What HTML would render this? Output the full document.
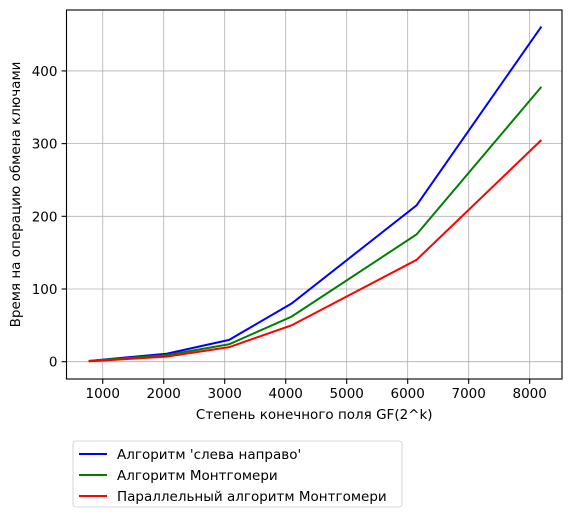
<!DOCTYPE html>
<html><head><meta charset="utf-8"><style>
body{margin:0;background:#fff;width:571px;height:518px;overflow:hidden}
text{font-family:"DejaVu Sans","Liberation Sans",sans-serif;}
</style></head><body>
<svg id="chart" width="571" height="518" xmlns="http://www.w3.org/2000/svg"></svg>
<script>
const xs=[768,2048,3072,4096,6144,8192];
const blue=[1,11,30,80,215,461];
const green=[1,9,24,62,175,378];
const red=[0.5,7,20,50,140,305];
const xTicks=[1000,2000,3000,4000,5000,6000,7000,8000];
const yTicks=[0,100,200,300,400];
const seriesNames=["Алгоритм 'слева направо'","Алгоритм Монтгомери","Параллельный алгоритм Монтгомери"];
const L=66.5,R=562,T=10,B=379;
const xmin=406,xmax=8530,ymin=-23.8,ymax=483.8;
const X=v=>L+(v-xmin)/(xmax-xmin)*(R-L);
const Y=v=>B-(v-ymin)/(ymax-ymin)*(B-T);
const svg=document.getElementById('chart');
const NS='http://www.w3.org/2000/svg';
const FS=13.5;
function mk(t,a,p){const e=document.createElementNS(NS,t);for(const k in a)e.setAttribute(k,a[k]);(p||svg).appendChild(e);return e;}
xTicks.forEach(v=>{
 const l=mk('line',{x1:X(v),x2:X(v),y1:T,y2:B,stroke:'#b0b0b0','stroke-width':0.8});
 
 const t=mk('line',{x1:X(v),x2:X(v),y1:B,y2:B+4.9,stroke:'#000','stroke-width':1.1});
 
 const tx=mk('text',{x:X(v),y:B+19,'text-anchor':'middle','font-size':FS});tx.textContent=v;
 
});
yTicks.forEach(v=>{
 const l=mk('line',{x1:L,x2:R,y1:Y(v),y2:Y(v),stroke:'#b0b0b0','stroke-width':0.8});
 
 const t=mk('line',{x1:L-4.9,x2:L,y1:Y(v),y2:Y(v),stroke:'#000','stroke-width':1.1});
 
 const tx=mk('text',{x:L-9,y:Y(v)+5,'text-anchor':'end','font-size':FS});tx.textContent=v;
 
});
const cols=['#0000ff','#008000','#ff0000'];
[blue,green,red].forEach((s,i)=>{
 const p=mk('polyline',{points:xs.map((x,j)=>X(x)+','+Y(s[j])).join(' '),fill:'none',stroke:cols[i],'stroke-width':2});
 
});
const fr=mk('rect',{x:L,y:T,width:R-L,height:B-T,fill:'none',stroke:'#000','stroke-width':1.1});

const xt=mk('text',{x:(L+R)/2,y:419,'text-anchor':'middle','font-size':FS});xt.textContent='Степень конечного поля GF(2^k)';

const yt=mk('text',{x:0,y:0,'text-anchor':'middle','font-size':FS,transform:`translate(20,${(T+B)/2}) rotate(-90)`});yt.textContent='Время на операцию обмена ключами';

const lg=mk('g',{});
mk('rect',{x:73,y:441,width:329,height:66,rx:3,fill:'#fff',stroke:'#ccc','stroke-width':0.8},lg);
seriesNames.forEach((n,i)=>{
 const y=454+i*21;
 const g=mk('g',{},lg);
 mk('line',{x1:79,x2:107,y1:y,y2:y,stroke:cols[i],'stroke-width':2},g);
 const t=mk('text',{x:117,y:y+5,'font-size':FS},g);t.textContent=n;
});
</script>
</body></html>
